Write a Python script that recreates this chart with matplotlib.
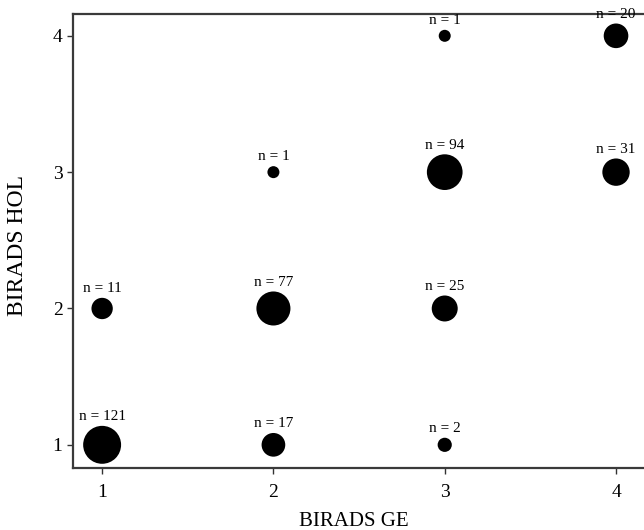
import matplotlib
matplotlib.use("Agg")
import matplotlib.pyplot as plt
import numpy as np

plt.rcParams['font.family'] = ['Liberation Serif', 'DejaVu Serif']

birads_ge = [1, 2, 1, 2, 3, 2, 3, 4, 3, 4, 3]
birads_hol = [1, 1, 2, 2, 2, 3, 3, 3, 4, 4, 1]
counts = [121, 17, 11, 77, 25, 1, 94, 31, 1, 20, 2]
x_ticks = [1, 2, 3, 4]
y_ticks = [1, 2, 3, 4]

W, H = 644, 530
fig = plt.figure(figsize=(W / 100, H / 100), dpi=100)
ax = fig.add_axes([73 / W, 62 / H, (646 - 73) / W, (468 - 14) / H])

cnt = np.array(counts, dtype=float)
diam_px = 12.0 * cnt ** 0.24
diam_pt = diam_px * 0.72
ax.scatter(birads_ge, birads_hol, s=diam_pt ** 2, color='black', zorder=3,
           linewidths=0)

for xv, yv, n, d in zip(birads_ge, birads_hol, counts, diam_pt):
    ax.annotate(f"n = {n}", (xv, yv), xytext=(0, d / 2 + 2.0),
                textcoords='offset points', ha='center', va='bottom',
                fontsize=11, annotation_clip=False)

ax.set_xlim(0.83, 4.175)
ax.set_ylim(0.83, 4.16)
ax.set_xticks(x_ticks)
ax.set_yticks(y_ticks)
ax.tick_params(axis='both', direction='out', length=4.5, width=1,
               color='#333333', labelsize=14)
ax.tick_params(axis='x', pad=7)
ax.tick_params(axis='y', pad=3)
for sp in ax.spines.values():
    sp.set_linewidth(1.6)
    sp.set_color('#3a3a3a')

fig.text(354 / W, 1 - 522 / H, "BIRADS GE", ha='center', va='center', fontsize=15)
fig.text(17.5 / W, 1 - 245 / H, "BIRADS HOL", ha='center', va='center',
         rotation=90, fontsize=17)

fig.savefig("out.png", dpi=100)
